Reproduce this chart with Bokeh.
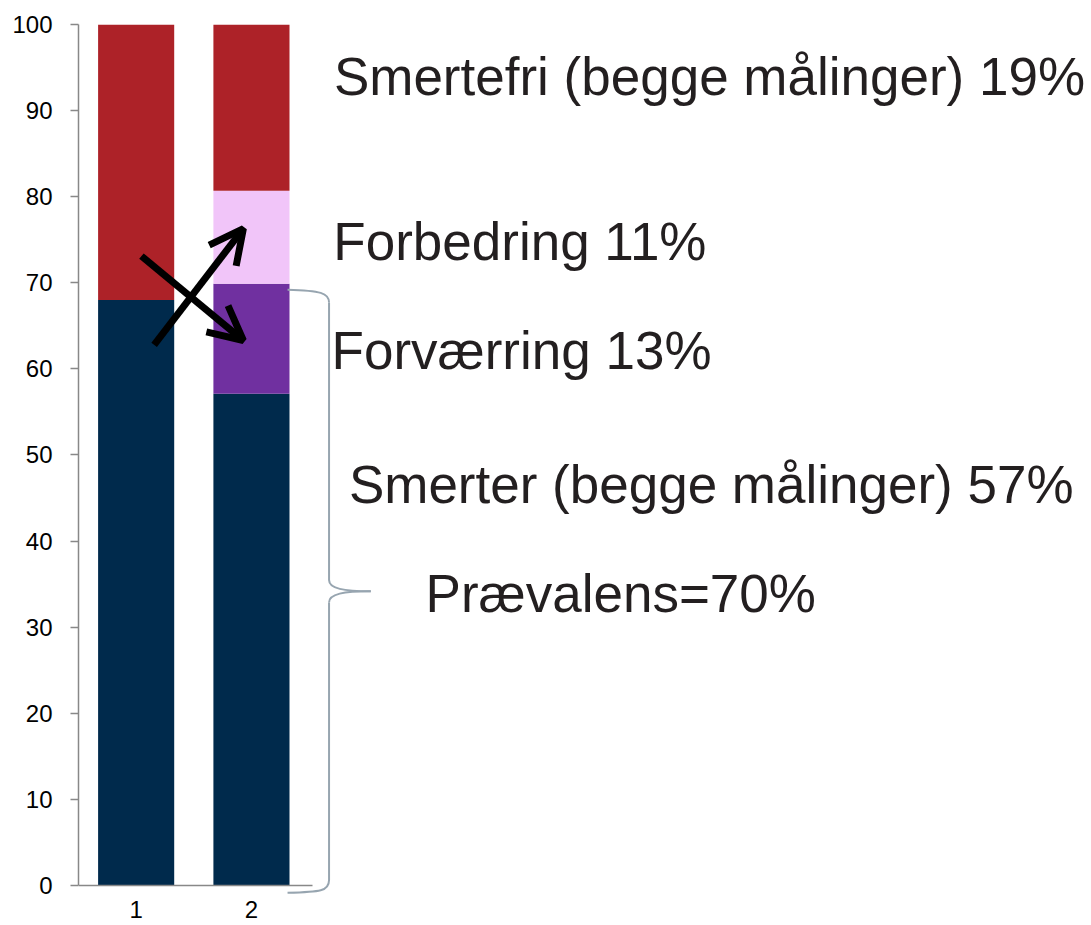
from bokeh.plotting import figure
from bokeh.models import Range1d, FixedTicker, Arrow, OpenHead, ColumnDataSource
from bokeh.core.properties import value
from bokeh.embed import file_html
from bokeh.resources import INLINE

# ---- data ----
categories = [1, 2]
smerter = [68.0, 57.1]        # pain (navy)
forvaerring = [0.0, 12.8]     # worsening (purple)
forbedring = [0.0, 10.8]      # improvement (pink)
smertefri = [32.0, 19.3]      # pain free (red)
y_ticks = [0, 10, 20, 30, 40, 50, 60, 70, 80, 90, 100]
x_tick_labels = {1: "1", 2: "2"}

labels = ["Smertefri (begge målinger) 19%", "Forbedring 11%", "Forværring 13%",
          "Smerter (begge målinger) 57%", "Prævalens=70%"]
label_x = [2.715, 2.71, 2.695, 2.845, 3.51]
label_y = [94.0, 74.75, 62.1, 46.6, 33.9]

# arrows (annotation): start/end
arrow_x0 = [1.156, 1.046]
arrow_y0 = [62.8, 73.1]
arrow_x1 = [1.93, 1.93]
arrow_y1 = [76.3, 63.3]

# brace (annotation)
brace_bottom = -0.85
brace_top = 69.2
brace_mid = (brace_top + brace_bottom) / 2
bx_tip, bx_line, bx_cusp = 2.313, 2.673, 3.035

colors = ["#002A4C", "#7030A0", "#F1C5F9", "#AD2228"]
stackers = ["smerter", "forvaerring", "forbedring", "smertefri"]

src = ColumnDataSource(dict(x=categories, smerter=smerter, forvaerring=forvaerring,
                            forbedring=forbedring, smertefri=smertefri))

p = figure(width=1090, height=924, x_range=Range1d(0.5, 9.277), y_range=Range1d(-4.3, 100),
           output_backend="svg", toolbar_location=None,
           min_border_left=78, min_border_right=0, min_border_top=24, min_border_bottom=2)
p.outline_line_color = None
p.xgrid.visible = False
p.ygrid.visible = False
p.background_fill_color = "white"

p.vbar_stack(stackers, x="x", width=0.66, color=colors, line_color=None, source=src)

axis_col = "#888888"
# y axis
p.yaxis.ticker = FixedTicker(ticks=y_ticks)
p.yaxis.bounds = (0, 100)
p.yaxis.axis_line_color = axis_col
p.yaxis.axis_line_width = 1.5
p.yaxis.major_tick_line_color = axis_col
p.yaxis.major_tick_line_width = 1.5
p.yaxis.major_tick_out = 8
p.yaxis.major_tick_in = 0
p.yaxis.minor_tick_line_color = None
p.yaxis.major_label_text_font = "Liberation Sans"
p.yaxis.major_label_text_font_size = "24px"
p.yaxis.major_label_text_color = "black"
p.yaxis.major_label_standoff = 18

# x axis
p.xaxis.ticker = FixedTicker(ticks=categories)
p.xaxis.major_label_overrides = x_tick_labels
p.xaxis.fixed_location = 0
p.xaxis.bounds = (0.5, 2.53)
p.xaxis.axis_line_color = axis_col
p.xaxis.axis_line_width = 1.5
p.xaxis.major_tick_line_color = None
p.xaxis.major_tick_out = 0
p.xaxis.major_tick_in = 0
p.xaxis.minor_tick_line_color = None
p.xaxis.major_label_text_font = "Liberation Sans"
p.xaxis.major_label_text_font_size = "24px"
p.xaxis.major_label_text_color = "black"
p.xaxis.major_label_standoff = 16

# labels
lsrc = ColumnDataSource(dict(x=label_x, y=label_y, text=labels))
p.text(x="x", y="y", text="text", source=lsrc, text_font=value("Liberation Sans"),
       text_font_size="53px", text_color="#231F20", text_baseline="alphabetic", text_align="left")

# arrows
for xs, ys, xe, ye in zip(arrow_x0, arrow_y0, arrow_x1, arrow_y1):
    p.add_layout(Arrow(end=OpenHead(size=34, line_width=7, line_color="black"),
                       x_start=xs, y_start=ys, x_end=xe, y_end=ye,
                       line_width=7, line_color="black"))

# brace
bcol = "#97A5B0"
r = 1.3
p.bezier(x0=[bx_tip, bx_line, bx_line, bx_line],
         y0=[brace_top, brace_mid + r, brace_mid - r, brace_bottom + 1.5],
         x1=[bx_line, bx_cusp, bx_cusp, bx_tip],
         y1=[brace_top - 1.5, brace_mid, brace_mid, brace_bottom],
         cx0=[2.60, bx_line, bx_line, bx_line],
         cy0=[brace_top - 0.1, brace_mid + 0.3, brace_mid - 0.3, brace_bottom + 0.2],
         cx1=[bx_line, 2.80, 2.80, 2.60],
         cy1=[brace_top - 0.4, brace_mid, brace_mid, brace_bottom + 0.1],
         line_color=bcol, line_width=2)
p.segment(x0=[bx_line, bx_line], y0=[brace_top - 1.5, brace_mid - r],
          x1=[bx_line, bx_line], y1=[brace_mid + r, brace_bottom + 1.5],
          line_color=bcol, line_width=2)

open("out.html", "w").write(file_html(p, INLINE))
